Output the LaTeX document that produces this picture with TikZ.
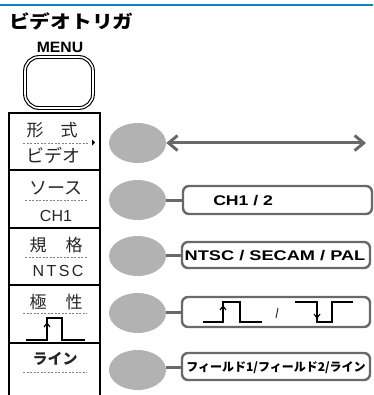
\documentclass[tikz,border=0pt]{standalone}
\usepackage{fontspec}
\setmainfont{Liberation Sans}
\newfontfamily\jp{Noto Sans CJK JP}
\usetikzlibrary{arrows.meta,shapes.geometric}
\definecolor{btngray}{RGB}{178,178,178}
\definecolor{lngray}{RGB}{105,105,105}
\definecolor{topblue}{RGB}{10,130,210}
\definecolor{dashgray}{RGB}{130,130,130}
\begin{document}
\begin{tikzpicture}[x=1pt,y=-1pt,
  btn/.style={ellipse, fill=btngray, minimum width=57pt, minimum height=40pt, inner sep=0pt},
  optbox/.style={draw=lngray, line width=2.4pt, rounded corners=6pt, inner sep=0pt},
  conn/.style={draw=lngray, line width=3pt},
  paneltxt/.style={inner sep=0pt, text=black!85, font=\jp\fontsize{17}{17}\selectfont},
  panellat/.style={inner sep=0pt, text=black!85, font=\fontsize{16}{16}\selectfont},
  dashln/.style={draw=dashgray, line width=0.8pt, dash pattern=on 2pt off 1.5pt},
  pulse/.style={draw=black, line width=1.4pt},
  boxtxt/.style={inner sep=0pt, font=\bfseries\fontsize{14}{14}\selectfont}]
\useasboundingbox (0,0) rectangle (373,395);
% top rule
\draw[topblue, line width=2.2pt] (0,5) -- (373,5);
% title
\node[anchor=west, inner sep=0pt, xscale=1.15, font=\jp\bfseries\fontsize{18}{18}\selectfont] (title) at (9,21) {ビデオトリガ};
% MENU
\node[inner sep=0pt, font=\bfseries\fontsize{15}{15}\selectfont, xscale=1.05] (menulbl) at (60,47) {MENU};
\draw[line width=1.1pt, double=white, double distance=1.6pt, rounded corners=14pt] (25,57) rectangle (93,108);
% panel
\draw[line width=1.5pt] (9,395) -- (9,113) -- (100,113) -- (100,395);
\foreach \yy in {170,228,285,343} \draw[line width=1.5pt] (9,\yy) -- (100,\yy);
% row 1
\node[paneltxt] (p1a) at (35,130) {形};
\node[paneltxt] (p1b) at (69,130) {式};
\draw[dashln] (23,143) -- (88,143);
\fill (92,139.5) -- (95,142.5) -- (92,145.5) -- cycle;
\node[paneltxt, font=\jp\fontsize{18}{18}\selectfont] (p1c) at (53,155) {ビデオ};
% row 2
\node[paneltxt, font=\jp\fontsize{18}{18}\selectfont] (p2a) at (56,188) {ソース};
\draw[dashln] (25,200) -- (87,200);
\node[panellat] (p2b) at (56,216) {CH1};
% row 3
\node[paneltxt] (p3a) at (38,245) {規};
\node[paneltxt] (p3b) at (74,245) {格};
\draw[dashln] (25,257) -- (87,257);
\node[panellat, font=\addfontfeature{LetterSpace=15}\fontsize{16}{16}\selectfont] (p3c) at (58,271) {NTSC};
% row 4
\node[paneltxt] (p4a) at (38,302) {極};
\node[paneltxt] (p4b) at (74,302) {性};
\draw[dashln] (23,313) -- (87,313);
\draw[pulse] (26,340) -- (47,340) -- (47,318) -- (62,318) -- (62,340) -- (85,340);
\draw[pulse, line width=1.1pt] (44,327) -- (47,323) -- (50,327);
% row 5
\node[paneltxt, font=\jp\bfseries\fontsize{15}{15}\selectfont] (p5a) at (55,359) {ライン};
\draw[dashln] (23,372) -- (87,372);
% buttons
\node[btn] (e1) at (137.5,143) {};
\node[btn] (e2) at (137.5,200) {};
\node[btn] (e3) at (137.5,256) {};
\node[btn] (e4) at (137.5,313) {};
\node[btn] (e5) at (137.5,370) {};
% row 1 arrow
\coordinate (arrend) at (366,143);
\draw[lngray, line width=3pt, {Straight Barb[length=9pt,width=15pt,line width=3pt]}-{Straight Barb[length=9pt,width=15pt,line width=3pt]}] (e1.east) -- (arrend);
% option boxes
\draw[optbox] (183,186) rectangle (372,214);
\coordinate (b2) at (183,200);
\draw[optbox] (182,242) rectangle (370,268);
\coordinate (b3) at (182,255);
\draw[optbox] (182,297) rectangle (370,327);
\coordinate (b4) at (182,312);
\draw[optbox] (182,353) rectangle (370,380);
\coordinate (b5) at (182,367);
\draw[conn] (e2.east) -- (b2);
\draw[conn] (e3.east |- b3) -- (b3);
\draw[conn] (e4.east |- b4) -- (b4);
\draw[conn] (e5.east |- b5) -- (b5);
% box texts
\node[boxtxt, anchor=west, xscale=1.26] (t2) at (213,201) {CH1 / 2};
\node[boxtxt, xscale=1.3] (t3) at (275,256) {NTSC / SECAM / PAL};
\node[inner sep=0pt, font=\jp\bfseries\fontsize{12}{12}\selectfont] (t5) at (276,368) {フィールド1/フィールド2/ライン};
% polarity symbols
\draw[pulse] (203,322) -- (223,322) -- (223,302) -- (240,302) -- (240,322) -- (262,322);
\draw[pulse, line width=1.1pt] (220,310) -- (223,306) -- (226,310);
\draw[black!80, line width=1pt] (276,318) -- (278,308);
\draw[pulse] (295,302) -- (317,302) -- (317,322) -- (332,322) -- (332,302) -- (353,302);
\draw[pulse, line width=1.1pt] (314,314) -- (317,318) -- (320,314);
\end{tikzpicture}
\end{document}
